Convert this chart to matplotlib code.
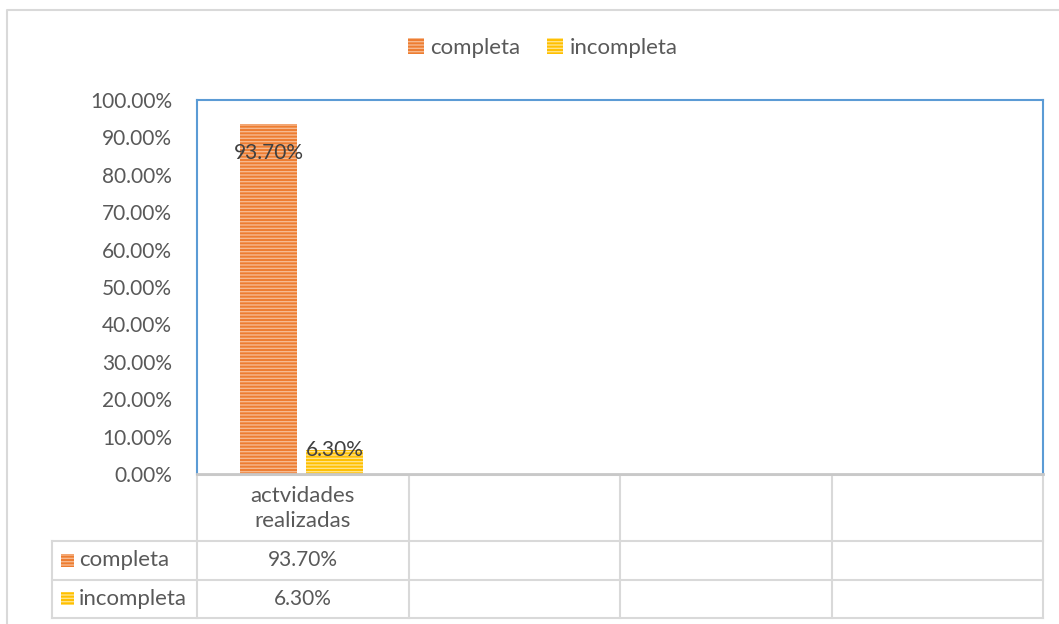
import numpy as np
import matplotlib
matplotlib.use("Agg")
import matplotlib.pyplot as plt
from matplotlib.patches import Rectangle

# data
categories = ["actvidades\nrealizadas", "", "", ""]
series_names = ["completa", "incompleta"]
completa = [0.937, np.nan, np.nan, np.nan]
incompleta = [0.063, np.nan, np.nan, np.nan]
yticks = [0.0, 0.1, 0.2, 0.3, 0.4, 0.5, 0.6, 0.7, 0.8, 0.9, 1.0]

colors = ["#ED7D31", "#FFC000"]
stripes = ["#F6B98F", "#FFE38A"]
txt = "#595959"
grid_c = "#D9D9D9"

plt.rcParams["font.family"] = ["Lato", "DejaVu Sans"]
plt.rcParams["hatch.linewidth"] = 1.0
fs_num = 15      # numbers
fs_word = 16     # words

W, H = 1059, 624
fig = plt.figure(figsize=(W / 100, H / 100), dpi=100)

# background overlay in pixel coords (for frame + data table)
bg = fig.add_axes([0, 0, 1, 1])
bg.set_xlim(0, W)
bg.set_ylim(H, 0)
bg.axis("off")

# plot area
pl, pr, pt, pb = 197, 1043, 100, 474
ax = fig.add_axes([pl / W, (H - pb) / H, (pr - pl) / W, (pb - pt) / H])
ax.set_xlim(0, len(categories))
ax.set_ylim(0, 1)

x = np.arange(len(categories)) + 0.495
bw = 0.27
off = 0.157
b1 = ax.bar(x - off, completa, bw, color=colors[0], edgecolor=stripes[0], lw=0, hatch="-----", label=series_names[0])
b2 = ax.bar(x + off, incompleta, bw, color=colors[1], edgecolor=stripes[1], lw=0, hatch="-----", label=series_names[1])

for xi, v in zip(x, completa):
    if not np.isnan(v):
        ax.annotate(f"{v:.2%}", (xi - off, v), xytext=(0, -29), textcoords="offset pixels",
                    ha="center", va="center", fontsize=fs_num, color="#404040")
for xi, v in zip(x, incompleta):
    if not np.isnan(v):
        ax.annotate(f"{v:.2%}", (xi + off, v), xytext=(0, 0), textcoords="offset pixels",
                    ha="center", va="center", fontsize=fs_num, color="#404040")

ax.set_yticks(yticks)
ax.set_yticklabels([f"{t:.2%}" for t in yticks], fontsize=fs_num, color=txt)
ax.tick_params(axis="y", length=0, pad=18)
ax.set_xticks([])
for s in ["left", "top", "right"]:
    ax.spines[s].set_color("#5B9BD5")
    ax.spines[s].set_linewidth(1.5)
ax.spines["bottom"].set_color("#C8C8C8")
ax.spines["bottom"].set_linewidth(2)

# outer chart frame
bg.plot([7, 7, W + 5], [H + 5, 10, 10], color=grid_c, lw=1.5)

# data table
colw = (pr - pl) / len(categories)
rows = [pb, 541, 580, 618]
kl = 52
lc = dict(color=grid_c, lw=1.5)
bg.plot([pl, pr], [rows[0] + 1, rows[0] + 1], **lc)
for r in rows[1:]:
    bg.plot([kl, pr], [r, r], **lc)
for i in range(len(categories) + 1):
    xc = pl + i * colw
    bg.plot([xc, xc], [rows[0], rows[-1]], **lc)
bg.plot([kl, kl], [rows[1], rows[-1]], **lc)

for i, c in enumerate(categories):
    bg.text(pl + (i + 0.5) * colw, (rows[0] + rows[1]) / 2 + 1, c, ha="center", va="center",
            fontsize=fs_word, color=txt, linespacing=1.3)

for j, (name, vals) in enumerate(zip(series_names, [completa, incompleta])):
    yc = (rows[j + 1] + rows[j + 2]) / 2
    bg.add_patch(Rectangle((61, yc - 7), 13, 13, facecolor=colors[j], edgecolor=stripes[j],
                           lw=0, hatch="-----"))
    bg.text(79, yc, name, ha="left", va="center", fontsize=fs_word, color=txt)
    for i, v in enumerate(vals):
        if not np.isnan(v):
            bg.text(pl + (i + 0.5) * colw, yc, f"{v:.2%}", ha="center", va="center",
                    fontsize=fs_num, color=txt)

# legend on top
fig.legend(handles=[b1, b2], loc="center", bbox_to_anchor=(543 / W, 1 - 48 / H), ncol=2,
           frameon=False, fontsize=fs_word, labelcolor=txt, handlelength=0.7, handleheight=0.7,
           handletextpad=0.3, columnspacing=1.2)

fig.savefig("out.png", dpi=100, facecolor="white")
